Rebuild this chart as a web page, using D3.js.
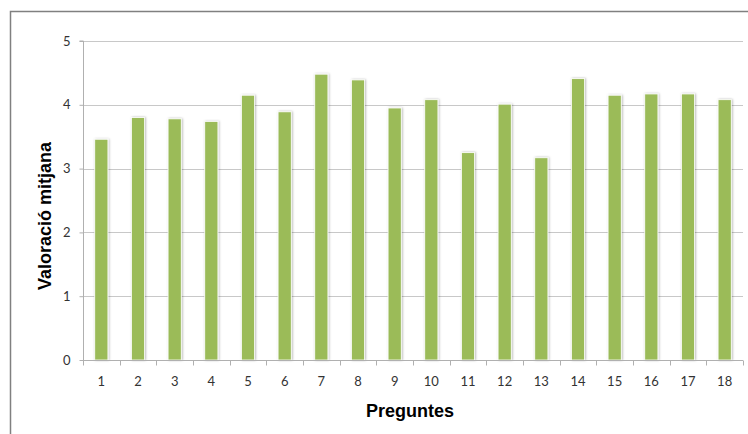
<!DOCTYPE html>
<html><head><meta charset="utf-8">
<script src="https://cdn.jsdelivr.net/npm/d3@7"></script>
<style>body{margin:0;background:#fff;} svg{display:block;}</style>
</head><body>
<svg id="chart" width="748" height="434"></svg>
<script>
const categories = ["1","2","3","4","5","6","7","8","9","10","11","12","13","14","15","16","17","18"];
const values = [3.46, 3.80, 3.78, 3.74, 4.15, 3.89, 4.48, 4.39, 3.95, 4.08, 3.25, 4.01, 3.17, 4.41, 4.15, 4.17, 4.17, 4.08];
const yTicks = [0, 1, 2, 3, 4, 5];
const xTitle = "Preguntes";
const yTitle = "Valoració mitjana";

const svg = d3.select("#chart");
const m = {left: 83, right: 743, top: 41, bottom: 360};

// outer border
svg.append("path").attr("d", "M10.5,440 V11.5 H760").attr("fill","none").attr("stroke","#808080").attr("stroke-width",1.5);

const x = d3.scaleBand().domain(categories).range([m.left, m.right]).paddingInner(0.64).paddingOuter(0.32);
const xb = d3.scaleBand().domain(categories).range([m.left, m.right]);
const y = d3.scaleLinear().domain([0,5]).range([m.bottom, m.top]);

// gridlines
svg.append("g").selectAll("line").data(yTicks.filter(t=>t>0)).join("line")
  .attr("x1", m.left).attr("x2", m.right)
  .attr("y1", d=>Math.round(y(d))+0.5).attr("y2", d=>Math.round(y(d))+0.5)
  .attr("stroke","#c8c8c8").attr("stroke-width",1.2);

// bars with soft shadow
const defs = svg.append("defs");
const f = defs.append("filter").attr("id","sh").attr("x","-30%").attr("y","-5%").attr("width","160%").attr("height","110%");
f.append("feDropShadow").attr("dx",0.8).attr("dy",0).attr("stdDeviation",1.2).attr("flood-color","#000").attr("flood-opacity",0.3);

svg.append("g").selectAll("rect").data(values).join("rect")
  .attr("x", (d,i)=>x(categories[i]))
  .attr("width", x.bandwidth())
  .attr("y", d=>y(d))
  .attr("height", d=>y(0)-y(d))
  .attr("fill","#9BBB59")
  .attr("stroke","#ffffff").attr("stroke-width",0.8)
  .attr("filter","url(#sh)");

// y axis
const yAxis = d3.axisLeft(y).tickValues(yTicks).tickSize(4).tickPadding(9).tickFormat(d3.format("d"));
const gy = svg.append("g").attr("transform",`translate(${m.left+0.5},0)`).call(yAxis);
gy.select(".domain").attr("stroke","#b0b0b0").attr("d", `M-4,${m.top}H0V${m.bottom}`);
gy.selectAll(".tick line").attr("stroke","#b0b0b0");
gy.selectAll("text").attr("fill","#333333").style("font-family","Lato, 'Open Sans', sans-serif").style("font-size","13px");

// x axis
const gx = svg.append("g").attr("transform",`translate(0,${m.bottom+0.5})`);
gx.append("line").attr("x1",m.left).attr("x2",m.right).attr("stroke","#b0b0b0");
gx.selectAll("line.t").data(categories.concat(["end"])).join("line").attr("class","t")
  .attr("x1",(d,i)=> i<categories.length ? Math.round(xb(d))+0.5 : m.right+0.5)
  .attr("x2",(d,i)=> i<categories.length ? Math.round(xb(d))+0.5 : m.right+0.5)
  .attr("y1",0).attr("y2",5).attr("stroke","#b0b0b0");
gx.selectAll("text").data(categories).join("text")
  .attr("x", d=>xb(d)+xb.bandwidth()/2)
  .attr("y", 25)
  .attr("text-anchor","middle")
  .attr("fill","#333333")
  .style("font-family","Lato, 'Open Sans', sans-serif").style("font-size","13px")
  .text(d=>d);

// titles
svg.append("text").attr("x", 410).attr("y", 417).attr("text-anchor","middle")
  .style("font-family","'Liberation Sans', Arial, sans-serif").style("font-weight","bold").style("font-size","18px")
  .attr("fill","#000").text(xTitle);
svg.append("text").attr("transform","translate(51,216) rotate(-90)").attr("text-anchor","middle")
  .style("font-family","'Liberation Sans', Arial, sans-serif").style("font-weight","bold").style("font-size","18px")
  .attr("fill","#000").text(yTitle);
</script>
</body></html>
